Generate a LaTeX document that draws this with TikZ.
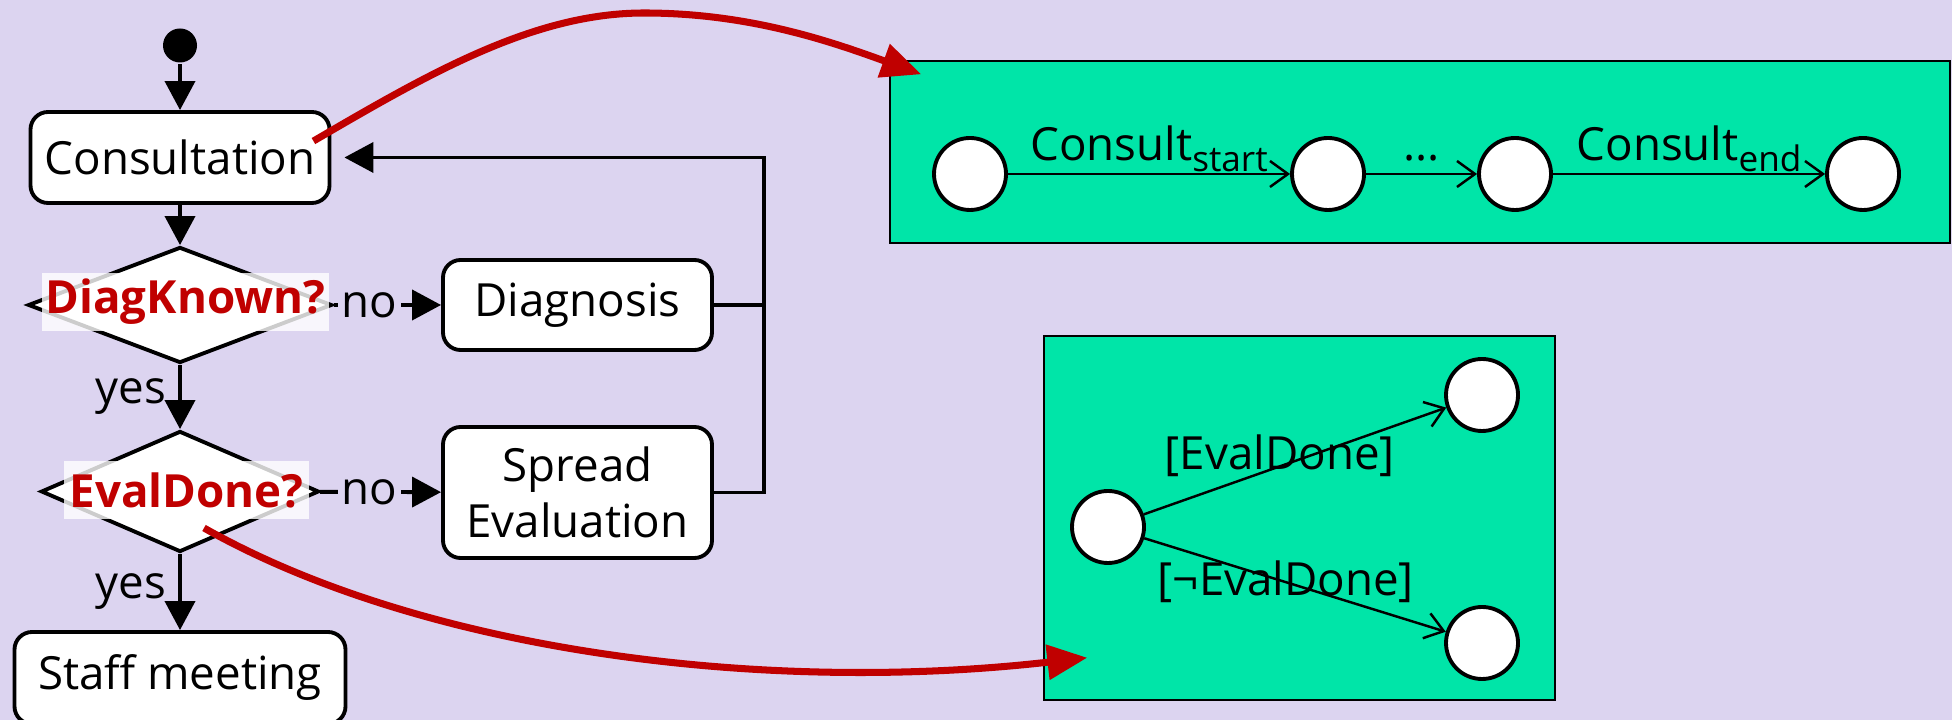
\documentclass[tikz,border=0pt]{standalone}
\usepackage{fontspec}
\setmainfont{Open Sans}
\usetikzlibrary{shapes.geometric,arrows.meta}

\definecolor{lilac}{RGB}{220,212,240}
\definecolor{mint}{RGB}{0,229,168}
\definecolor{hintred}{RGB}{192,0,0}

\newcommand{\lowsub}[1]{{\fontsize{10}{12}\selectfont\raisebox{-3pt}{#1}}}

\begin{document}
\begin{tikzpicture}[
        line width=1.1pt,
        font=\fontsize{13}{16}\selectfont,
        act/.style={draw, rounded corners=5pt, fill=white,
                    minimum width=2.69cm, minimum height=0.9cm, align=center},
        choice/.style={draw, diamond, fill=white, inner sep=0pt},
        guard/.style={fill=white, fill opacity=0.8, text opacity=1,
                      text=hintred, font=\fontsize{13}{16}\selectfont\bfseries,
                      inner sep=0pt, minimum height=0.58cm},
        panel/.style={draw, fill=mint, line width=0.4pt},
        place/.style={draw, circle, fill=white, minimum size=0.72cm, inner sep=0pt},
        flow/.style={-{Triangle[length=0.29cm, width=0.3cm]}},
        trans/.style={-{Straight Barb[length=0.18cm, width=0.26cm]}, line width=0.7pt},
        hint/.style={-{Triangle[length=0.4cm, width=0.34cm]}, line width=2pt, draw=hintred}
      ]
        \useasboundingbox (0,0) rectangle (19.52,-7.20);
        \fill[lilac] (0,0) rectangle (19.52,-7.20);

        \node[circle, fill, inner sep=0pt, minimum size=0.34cm] (init) at (1.80,-0.455) {};
        \node[act, minimum width=2.99cm, minimum height=0.91cm] (consult) at (1.80,-1.575)
          {Consultation};
        \node[choice, minimum width=3.04cm, minimum height=1.16cm] (diagq) at (1.80,-3.05) {};
        \node[guard, minimum width=2.87cm] (diagl) at (1.855,-3.02) {DiagKnown?};
        \node[act] (diagnosis) at (5.775,-3.05) {Diagnosis};

        \node[choice, minimum width=2.78cm, minimum height=1.21cm] (evalq) at (1.80,-4.915) {};
        \node[guard, minimum width=2.45cm] (evall) at (1.865,-4.905) {EvalDone?};
        \node[act, minimum height=1.31cm] (spread) at (5.775,-4.925) {Spread\\Evaluation};

        \node[act, minimum width=3.31cm, minimum height=0.92cm] (staff) at (1.80,-6.78)
          {Staff meeting};
        \coordinate (back) at (7.64,-1.575);

        \draw[flow] (init) -- (consult);
        \draw[flow] (consult) -- (diagq);
        \draw[flow] (diagq) -- node[left] {yes} (evalq);
        \draw[flow] (evalq) -- node[left] {yes} (staff);
        \draw[flow] (diagq) -- node[pos=0.33, fill=lilac, inner sep=1pt] {no} (diagnosis);
        \draw[flow] (evalq) -- node[pos=0.41, fill=lilac, inner sep=1pt] {no} (spread);
        \draw (diagnosis) -- (diagnosis -| back);
        \draw[flow, shorten >=0.13cm] (spread) -| (back) -- (consult);

        \node[panel, minimum width=10.6cm, minimum height=1.82cm] (runs) at (14.20,-1.52) {};
        \node[place] (r1) at (9.70,-1.74) {};
        \node[place] (r2) at (13.28,-1.74) {};
        \node[place] (r3) at (15.15,-1.74) {};
        \node[place] (r4) at (18.63,-1.74) {};
        \draw[trans] (r1) -- node[above=-3pt] {Consult\lowsub{start}} (r2);
        \draw[trans] (r2) -- node[above] {...} (r3);
        \draw[trans] (r3) -- node[above=-3pt] {Consult\lowsub{end}} (r4);

        \node[panel, minimum width=5.11cm, minimum height=3.64cm] (branch) at (12.995,-5.18) {};
        \node[place] (b1) at (11.08,-5.27) {};
        \node[place] (b2) at (14.82,-3.95) {};
        \node[place] (b3) at (14.82,-6.43) {};
        \draw[trans] (b1) -- node[pos=0.45, yshift=0.11cm] {[EvalDone]} (b2);
        \draw[trans] (b1) -- node[pos=0.47] {[¬EvalDone]} (b3);

        \draw[hint] ([xshift=-0.18cm, yshift=-0.31cm]consult.north east)
          .. controls (4.30,-0.73) and (5.34,-0.13) .. (6.44,-0.13)
          .. controls (7.50,-0.13) and (8.32,-0.42) .. ([xshift=0.32cm, yshift=-0.14cm]runs.north west);
        \draw[hint] ([xshift=0.24cm, yshift=-0.365cm]evalq.center)
          .. controls (4.20,-6.50) and (7.60,-6.95) .. ([xshift=0.44cm, yshift=0.43cm]branch.south west);
      \end{tikzpicture}
\end{document}
